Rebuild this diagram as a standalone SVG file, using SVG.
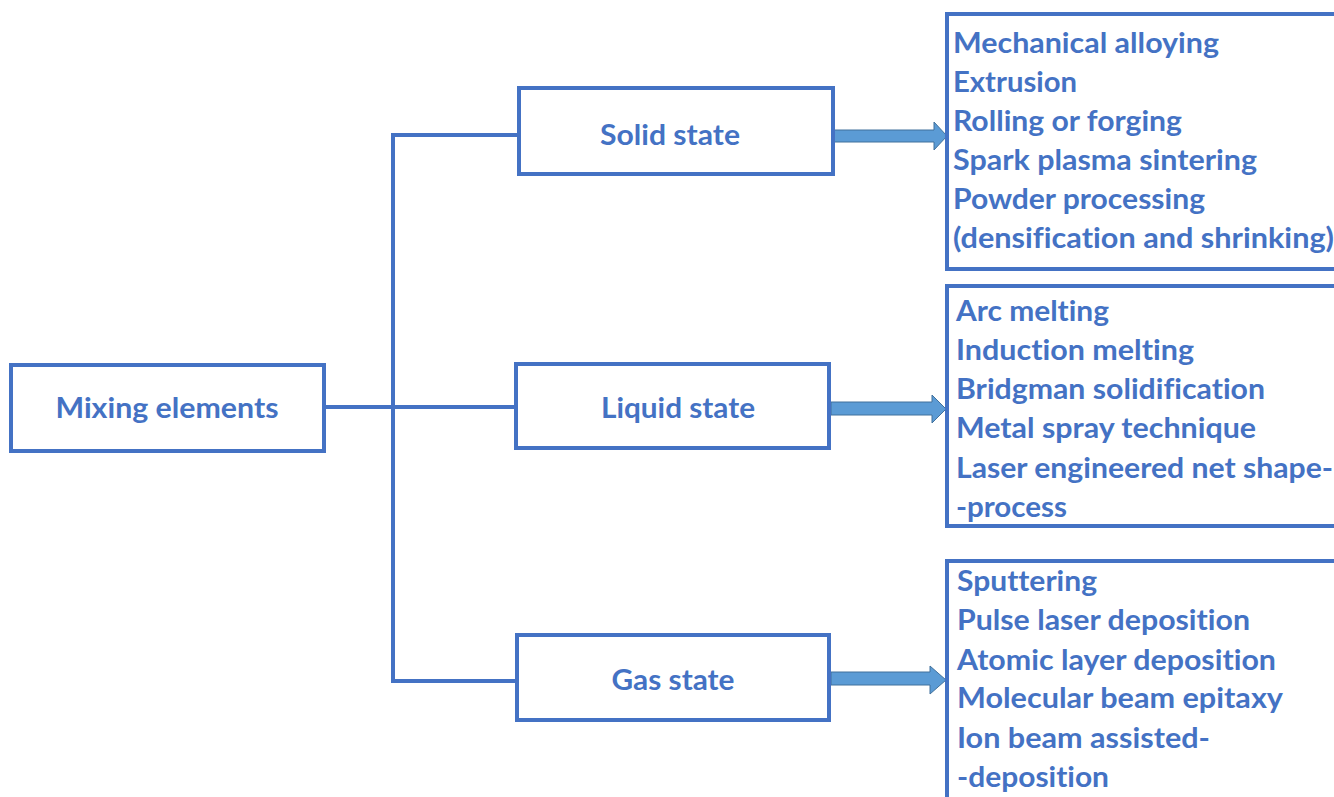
<svg xmlns="http://www.w3.org/2000/svg" width="1334" height="797" viewBox="0 0 1334 797">
<style>
.box{fill:#fff;stroke:#4472C4;stroke-width:4}
.ln{fill:none;stroke:#4472C4;stroke-width:4}
.arr{fill:#5B9BD5;stroke:#41719C;stroke-width:1}
text{font-family:Lato,"Liberation Sans",sans-serif;font-weight:bold;font-size:28px;fill:#4472C4;font-variant-ligatures:none;font-feature-settings:"liga" 0}
.c{text-anchor:middle}
</style>
<rect width="1334" height="797" fill="#fff"/>
<g id="connectors">
<polyline class="ln" points="325,407 517,407"/>
<polyline class="ln" points="517,135 393,135 393,681 517,681"/>
<polygon class="arr" points="834,130 934,130 934,122 947,136 934,150 934,142 834,142"/>
<polygon class="arr" points="831,402 932,402 932,395 946,409 932,423 932,415 831,415"/>
<polygon class="arr" points="831,672 930,672 930,666 946,680 930,694 930,685 831,685"/>
</g>
<g id="mixing"><rect class="box" x="11" y="365" width="313" height="86"/><text class="c" x="167" y="418" textLength="223" lengthAdjust="spacingAndGlyphs">Mixing elements</text></g>
<g id="solid"><rect class="box" x="519" y="88" width="314" height="86"/><text class="c" x="670" y="145" textLength="140" lengthAdjust="spacingAndGlyphs">Solid state</text></g>
<g id="liquid"><rect class="box" x="516" y="364" width="313" height="84"/><text class="c" x="678" y="418" textLength="154" lengthAdjust="spacingAndGlyphs">Liquid state</text></g>
<g id="gas"><rect class="box" x="517" y="635" width="312" height="85"/><text class="c" x="673" y="690" textLength="123" lengthAdjust="spacingAndGlyphs">Gas state</text></g>
<g id="solid-methods"><rect class="box" x="947" y="14" width="400" height="255"/>
<text x="953" y="53" textLength="266" lengthAdjust="spacingAndGlyphs">Mechanical alloying</text>
<text x="953" y="92" textLength="124" lengthAdjust="spacingAndGlyphs">Extrusion</text>
<text x="953" y="131" textLength="229" lengthAdjust="spacingAndGlyphs">Rolling or forging</text>
<text x="953" y="170" textLength="304" lengthAdjust="spacingAndGlyphs">Spark plasma sintering</text>
<text x="953" y="209" textLength="252" lengthAdjust="spacingAndGlyphs">Powder processing</text>
<text x="953" y="248" textLength="381" lengthAdjust="spacingAndGlyphs">(densification and shrinking)</text>
</g>
<g id="liquid-methods"><rect class="box" x="947" y="286" width="400" height="240"/>
<text x="956" y="321" textLength="153" lengthAdjust="spacingAndGlyphs">Arc melting</text>
<text x="956" y="360" textLength="238" lengthAdjust="spacingAndGlyphs">Induction melting</text>
<text x="956" y="399" textLength="309" lengthAdjust="spacingAndGlyphs">Bridgman solidification</text>
<text x="956" y="438" textLength="300" lengthAdjust="spacingAndGlyphs">Metal spray technique</text>
<text x="956" y="478" textLength="377" lengthAdjust="spacingAndGlyphs">Laser engineered net shape-</text>
<text x="956" y="517" textLength="111" lengthAdjust="spacingAndGlyphs">-process</text>
</g>
<g id="gas-methods"><rect class="box" x="947" y="561" width="400" height="260"/>
<text x="957" y="591" textLength="140" lengthAdjust="spacingAndGlyphs">Sputtering</text>
<text x="957" y="630" textLength="293" lengthAdjust="spacingAndGlyphs">Pulse laser deposition</text>
<text x="957" y="670" textLength="319" lengthAdjust="spacingAndGlyphs">Atomic layer deposition</text>
<text x="957" y="708" textLength="326" lengthAdjust="spacingAndGlyphs">Molecular beam epitaxy</text>
<text x="957" y="748" textLength="253" lengthAdjust="spacingAndGlyphs">Ion beam assisted-</text>
<text x="957" y="787" textLength="152" lengthAdjust="spacingAndGlyphs">-deposition</text>
</g>
</svg>
